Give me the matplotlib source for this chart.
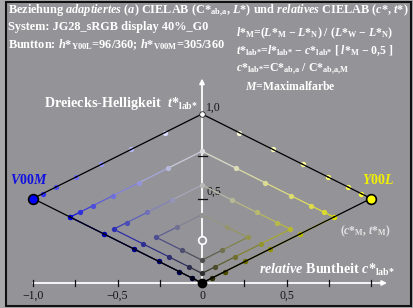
import numpy as np
import matplotlib
matplotlib.use("Agg")
import matplotlib.pyplot as plt
from matplotlib.patches import Rectangle

plt.rcParams["font.family"] = "Liberation Serif"
plt.rcParams["mathtext.fontset"] = "custom"
plt.rcParams["mathtext.rm"] = "Liberation Serif:bold"
plt.rcParams["mathtext.it"] = "Liberation Serif:italic:bold"
plt.rcParams["mathtext.bf"] = "Liberation Serif:bold"

# ── data ───────────────────────────────────────────────────────────────────
# relative steps white -> maximal colour (8 levels), same for both hues
stufen = [0.0, 0.22, 0.42, 0.595, 0.745, 0.865, 0.943, 1.0]
seiten = ["V00M", "Y00L"]
seite_vz = [-1, 1]
farbe_M = [(0.0, 0.0, 1.0), (1.0, 1.0, 0.0)]
text_farbe = ["#1010e0", "#f0f000"]
hue_text = ["96/360", "305/360"]   # Y00L, V00M
xticks = [-1.0, -0.75, -0.5, -0.25, 0.25, 0.5, 0.75, 1.0]
xtick_labels = ["−1,0", "−0,5", "0", "0,5"]
xtick_label_pos = [-1.0, -0.5, 0.0, 0.5]
yticks = [0.5, 0.75]
ytick_labels = ["1,0", "0,5"]
ytick_label_pos = [1.0, 0.5]

BG = "#949498"
W, H = 413, 308
PX = 169.0           # pixels per unit
OX, OY = 202, 283    # pixel position of (0, 0)


def punkt(i, j, vz):
    c = stufen[j] - stufen[i]
    t = 1 - (stufen[i] + stufen[j]) / 2
    return vz * c, t


def farbe(i, j, M):
    w = 1 - stufen[j]
    c = stufen[j] - stufen[i]
    rgb = np.clip(np.array(M) * c + w, 0, 1)
    return tuple(rgb ** 0.6)


fig = plt.figure(figsize=(W / 100, H / 100), dpi=100, facecolor="#a9a9ab")
fig.patches.append(Rectangle((6 / W, 1 - 305.5 / H), 405 / W, 304 / H,
                             transform=fig.transFigure, facecolor=BG,
                             edgecolor="#111111", lw=1.5, zorder=-5))
ax = fig.add_axes([0, 0, 1, 1])
ax.set_xlim(-OX / PX, (W - OX) / PX)
ax.set_ylim(-(H - OY) / PX, OY / PX)
ax.axis("off")


def ftext(x, y, s, **kw):
    kw.setdefault("color", "white")
    kw.setdefault("fontweight", "bold")
    kw.setdefault("va", "center")
    fig.text(x / W, 1 - y / H, s, **kw)


# ── axes ───────────────────────────────────────────────────────────────────
ax.annotate("", xy=(0, 1.21), xytext=(0, -0.01),
            arrowprops=dict(arrowstyle="-|>", color="white", lw=1.3,
                            mutation_scale=7, shrinkA=0, shrinkB=0), zorder=1)
ax.annotate("", xy=(1.095, 0), xytext=(-1.0, 0),
            arrowprops=dict(arrowstyle="-|>", color="white", lw=1.3,
                            mutation_scale=7, shrinkA=0, shrinkB=0), zorder=1)
for x in xticks:
    ax.plot([x, x], [-0.018, 0.018], color="#111111", lw=0.9, zorder=2)
for y in yticks:
    ax.plot([-0.022, 0.028], [y, y], color="#111111", lw=0.9, zorder=2)
for x, s in zip(xtick_label_pos, xtick_labels):
    ax.text(x, -0.075, s, ha="center", va="center", fontsize=8.5, color="#151515")
for y, s in zip(ytick_label_pos, ytick_labels):
    ax.text(0.025, y + 0.04, s, ha="left", va="center", fontsize=8.5, color="#151515")

# ── colour series ──────────────────────────────────────────────────────────
for vz, M in zip(seite_vz, farbe_M):
    for k in range(4):
        m = min(8 - k, 7)
        pfad = [(k, j) for j in range(k, m + 1)] + [(i, m) for i in range(k + 1, m + 1)]
        xy = [punkt(i, j, vz) for i, j in pfad]
        cols = [farbe(i, j, M) for i, j in pfad]
        for n in range(len(pfad) - 1):
            if k == 0:
                ax.plot([xy[n][0], xy[n + 1][0]], [xy[n][1], xy[n + 1][1]],
                        color="black", lw=0.9, zorder=5)
            else:
                c = tuple((np.array(cols[n]) + np.array(cols[n + 1])) / 2)
                ax.plot([xy[n][0], xy[n + 1][0]], [xy[n][1], xy[n + 1][1]],
                        color=c, lw=0.9, zorder=3)
        for (i, j), p, c in zip(pfad, xy, cols):
            if i == j or (i == 0 and j == 7):
                continue
            ax.plot(p[0], p[1], "o", ms=3.8, color=c, mew=0, zorder=4)
    # maximal colour
    px, py = punkt(0, 7, vz)
    ax.plot(px, py, "o", ms=7, mfc=M, mec="black", mew=1.2, zorder=6)

# grey axis
for k in range(1, 7):
    x, y = punkt(k, k, 1)
    if k == 4:
        ax.plot(x, y, "o", ms=5.5, mfc=BG, mec="white", mew=1.2, zorder=6)
    else:
        ax.plot(x, y, "o", ms=3.8, color=farbe(k, k, (0, 0, 0)), mew=0, zorder=6)
x, y = punkt(0, 0, 1)
ax.plot(x, y, "o", ms=4, mfc="white", mec="#222222", mew=0.6, zorder=6)
x, y = punkt(7, 7, 1)
ax.plot(x, y, "o", ms=6, color="black", zorder=6)

# ── texts ──────────────────────────────────────────────────────────────────
ftext(8, 11, r"Beziehung $adaptiertes\ (a)$ CIELAB ($\mathrm{C{*}}_{\mathrm{ab{,}a}}$, $L{*}$) "
             r"und $relatives$ CIELAB ($c{*}$, $t{*}$)", fontsize=8.8)
ftext(8, 27, "System: JG28_sRGB display 40%_G0", fontsize=8.8)
ftext(8, 45, r"Buntton: $h{*}_{\mathrm{Y00L}}$=" + hue_text[0] +
             r"; $h{*}_{\mathrm{V00M}}$=" + hue_text[1], fontsize=8.8)
ftext(236, 33, r"$l{*}_\mathrm{M}$=($L{*}_\mathrm{M}$ − $L{*}_\mathrm{N}$) / "
               r"($L{*}_\mathrm{W}$ − $L{*}_\mathrm{N}$)", fontsize=8.5)
ftext(236, 51, r"$t{*}_\mathrm{lab{*}}$=$l{*}_\mathrm{lab{*}}$ − $c{*}_\mathrm{lab{*}}$ "
               r"[ $l{*}_\mathrm{M}$ − 0,5 ]", fontsize=8.5)
ftext(236, 69, r"$c{*}_\mathrm{lab{*}}$=$\mathrm{C{*}}_\mathrm{ab{,}a}$ / "
               r"$\mathrm{C{*}}_\mathrm{ab{,}a{,}M}$", fontsize=8.5)
ftext(245, 86, r"$M$=Maximalfarbe", fontsize=8.5)

ftext(44, 104, r"Dreiecks-Helligkeit  $t{*}_\mathrm{lab{*}}$", fontsize=10.2)
ftext(10, 180, r"$%s$" % seiten[0], fontsize=10, color=text_farbe[0])
ftext(362, 180, r"$%s$" % seiten[1], fontsize=10, color=text_farbe[1])
ftext(340, 231, r"($c{*}_\mathrm{M}$, $t{*}_\mathrm{M}$)", fontsize=8.3, color="#e4e4e4")
ftext(259, 270, r"$relative$ Buntheit $c{*}_\mathrm{lab{*}}$", fontsize=10.2)

plt.savefig("out.png", dpi=100, facecolor=fig.get_facecolor())
plt.close()
